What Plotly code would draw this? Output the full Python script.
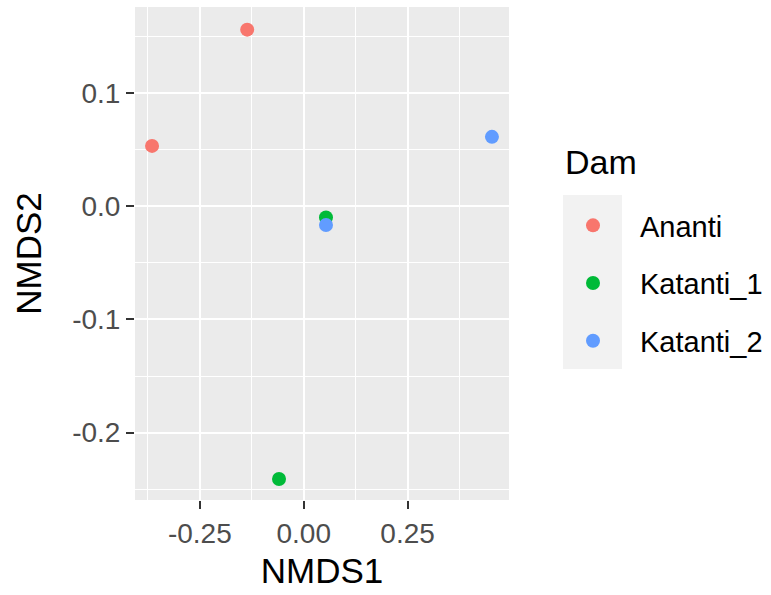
import plotly.graph_objects as go

groups = ["Ananti", "Katanti_1", "Katanti_2"]
colors = ["#F8766D", "#00BA38", "#619CFF"]
nmds1 = {"Ananti": [-0.136, -0.365], "Katanti_1": [0.0536, -0.0594], "Katanti_2": [0.0536, 0.453]}
nmds2 = {"Ananti": [0.156, 0.0533], "Katanti_1": [-0.0100, -0.241], "Katanti_2": [-0.0166, 0.0613]}

xticks = [-0.25, 0.0, 0.25]
xticktext = ["-0.25", "0.00", "0.25"]
yticks = [-0.2, -0.1, 0.0, 0.1]
yticktext = ["-0.2", "-0.1", "0.0", "0.1"]

fig = go.Figure()
for g, c in zip(groups, colors):
    fig.add_trace(go.Scatter(
        x=nmds1[g], y=nmds2[g], mode="markers", name=g, legendgroup=g,
        marker=dict(color=c, size=14, line=dict(width=0)),
    ))

font = "Liberation Sans, Arial, sans-serif"
fig.update_layout(
    width=771, height=595,
    margin=dict(l=135, r=262, t=7, b=95),
    paper_bgcolor="white", plot_bgcolor="#EBEBEB",
    font=dict(family=font, color="black"),
    xaxis=dict(
        range=[-0.406, 0.494], tickvals=xticks, ticktext=xticktext,
        showgrid=True, gridcolor="white", gridwidth=2, zeroline=False,
        minor=dict(dtick=0.125, tick0=0.125, showgrid=True, gridcolor="white", gridwidth=1, ticks=""),
        ticks="outside", ticklen=8, tickwidth=2, tickcolor="#333333",
        tickfont=dict(size=28, color="#4D4D4D"),
        title=dict(text="NMDS1", font=dict(size=35, color="black"), standoff=10),
        showline=False,
    ),
    yaxis=dict(
        range=[-0.2595, 0.176], tickvals=yticks, ticktext=yticktext,
        showgrid=True, gridcolor="white", gridwidth=2, zeroline=False,
        minor=dict(dtick=0.05, tick0=0.05, showgrid=True, gridcolor="white", gridwidth=1, ticks=""),
        ticks="outside", ticklen=8, tickwidth=2, tickcolor="#333333",
        tickfont=dict(size=28, color="#4D4D4D"),
        title=dict(text="NMDS2", font=dict(size=35, color="black"), standoff=19),
        showline=False,
    ),
    legend=dict(
        font=dict(size=29, color="black"),
        x=546 / 771, y=1 - 200 / 595, xref="container", yref="container",
        xanchor="left", yanchor="top",
        bgcolor="rgba(0,0,0,0)", traceorder="grouped", tracegroupgap=17,
        itemwidth=84,
    ),
    annotations=[dict(text="Dam", xref="paper", yref="paper",
                      x=(563 - 135) / 374, y=(500 - 162) / 493,
                      xanchor="left", yanchor="middle", showarrow=False,
                      font=dict(size=34, color="black"))],
    shapes=[dict(type="rect", xref="paper", yref="paper",
                 x0=(563 - 135) / 374, x1=(622 - 135) / 374,
                 y0=(500 - 369) / 493, y1=(500 - 195) / 493,
                 fillcolor="#F2F2F2", line=dict(width=0), layer="below")],
)

fig.write_html("out.html")
